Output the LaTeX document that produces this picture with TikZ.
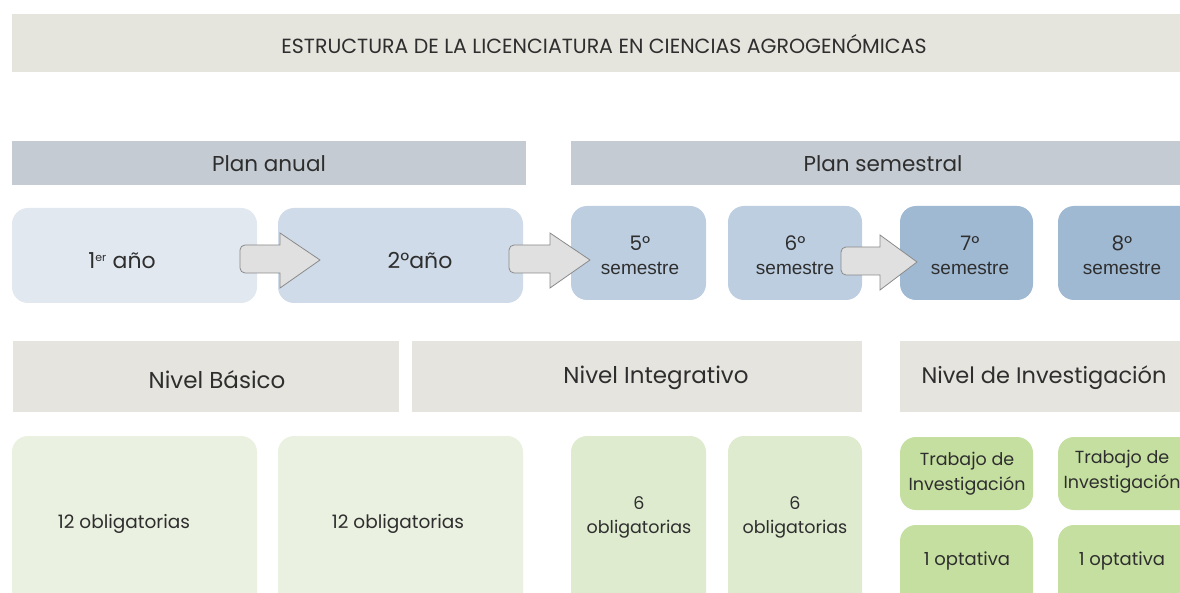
\documentclass[tikz,border=0pt]{standalone}
\usepackage{fontspec}
\setmainfont{Poppins}
\newfontfamily\helv{Liberation Sans}
\usetikzlibrary{positioning}
\definecolor{titlebg}{HTML}{E5E4DD}
\definecolor{planbg}{HTML}{C4CBD2}
\definecolor{yearA}{HTML}{E1E8F0}
\definecolor{yearB}{HTML}{CFDBE8}
\definecolor{semA}{HTML}{BDCEE1}
\definecolor{semB}{HTML}{A0B9D3}
\definecolor{nivbg}{HTML}{E5E4DE}
\definecolor{oblA}{HTML}{EAF1E0}
\definecolor{oblB}{HTML}{DEEBCF}
\definecolor{invbg}{HTML}{C5DFA0}
\definecolor{arrowbg}{HTML}{E0E0E0}
\definecolor{arrowln}{HTML}{8A8A8A}
\definecolor{txt}{HTML}{2E2E2E}
\tikzset{
  lbl/.style={inner sep=0pt, text=txt, align=center},
  big/.style={lbl, font=\fontsize{22}{26}\selectfont},
  small/.style={lbl, font=\fontsize{17.5}{24}\selectfont},
  conn/.style={draw=arrowln, fill=arrowbg, line width=0.8pt, line join=miter},
}
\newcommand\semlbl[1]{{\fontsize{20}{24}\selectfont #1°}\\{\helv\fontsize{19}{24}\selectfont semestre}}
\begin{document}
\begin{tikzpicture}[x=1pt,y=-1pt]
\useasboundingbox (0,0) rectangle (1180,593);
\clip (0,0) rectangle (1180,593);
% title
\fill[titlebg] (12,14) rectangle (1190,72);
\node[lbl, font=\fontsize{20.5}{22}\selectfont] (title) at (604,44) {ESTRUCTURA DE LA LICENCIATURA EN CIENCIAS AGROGENÓMICAS};
% plan headers
\fill[planbg] (12,141) rectangle (526,185);
\node[big, font=\fontsize{21.5}{26}\selectfont] (anual) at (269,164) {Plan anual};
\fill[planbg] (571,141) rectangle (1190,185);
\node[big, font=\fontsize{21.5}{26}\selectfont] (semestral) at (883,164) {Plan semestral};
% year / semester boxes
\fill[yearA, rounded corners=16pt] (12,208) rectangle (257,303);
\fill[yearB, rounded corners=16pt] (278,208) rectangle (523,303);
\fill[semA, rounded corners=16pt] (571,206) rectangle (706,300);
\fill[semA, rounded corners=16pt] (728,206) rectangle (862,300);
\fill[semB, rounded corners=16pt] (900,206) rectangle (1033,300);
\fill[semB, rounded corners=16pt] (1058,206) rectangle (1200,300);
\node[big] (y1) at (122,261) {1\textsuperscript{\fontsize{11}{12}\selectfont er} año};
\node[big] (y2) at (420,261) {2°año};
\node[small] (s5) at (640,255) {\semlbl{5}};
\node[small] (s6) at (795,255) {\semlbl{6}};
\node[small] (s7) at (970,255) {\semlbl{7}};
\node[small] (s8) at (1122,255) {\semlbl{8}};
% arrows
\draw[conn] (280,273) -- (247,273) [rounded corners=5pt] -- (240,273) -- (240,245) [sharp corners] -- (280,245) -- (280,233) -- (320,260) -- (280,288) -- cycle;
\draw[conn] (550,273) -- (516,273) [rounded corners=5pt] -- (509,273) -- (509,245) [sharp corners] -- (550,245) -- (550,233) -- (590,260) -- (550,288) -- cycle;
\draw[conn] (880,275) -- (848,275) [rounded corners=5pt] -- (841,275) -- (841,247) [sharp corners] -- (880,247) -- (880,235) -- (917,262) -- (880,290) -- cycle;
% level headers
\fill[nivbg] (13,341) rectangle (399,412);
\node[big, font=\fontsize{23}{26}\selectfont] (basico) at (217,380) {Nivel Básico};
\fill[nivbg] (412,341) rectangle (862,412);
\node[big, font=\fontsize{23}{26}\selectfont] (integ) at (656,378) {Nivel Integrativo};
\fill[nivbg] (900,341) rectangle (1190,412);
\node[big, font=\fontsize{22.5}{26}\selectfont] (invest) at (1044,378) {Nivel de Investigación};
% bottom boxes
\fill[oblA, rounded corners=16pt] (12,436) rectangle (257,620);
\fill[oblA, rounded corners=16pt] (278,436) rectangle (523,620);
\fill[oblB, rounded corners=16pt] (571,436) rectangle (706,620);
\fill[oblB, rounded corners=16pt] (728,436) rectangle (862,620);
\node[small, font=\fontsize{18.5}{23}\selectfont] (o1) at (124,524) {12 obligatorias};
\node[small, font=\fontsize{18.5}{23}\selectfont] (o2) at (398,524) {12 obligatorias};
\node[small] (o5) at (639,517) {6\\obligatorias};
\node[small] (o6) at (795,517) {6\\obligatorias};
\fill[invbg, rounded corners=16pt] (900,437) rectangle (1033,510);
\fill[invbg, rounded corners=16pt] (1058,437) rectangle (1200,510);
\fill[invbg, rounded corners=16pt] (900,525) rectangle (1033,620);
\fill[invbg, rounded corners=16pt] (1058,525) rectangle (1200,620);
\node[small, font=\fontsize{17.5}{25}\selectfont] (t7) at (967,474) {Trabajo de\\Investigación};
\node[small, font=\fontsize{17.5}{25}\selectfont] (t8) at (1122,472) {Trabajo de\\Investigación};
\node[small, font=\fontsize{18}{24}\selectfont] (p7) at (967,561) {1 optativa};
\node[small, font=\fontsize{18}{24}\selectfont] (p8) at (1122,561) {1 optativa};
\end{tikzpicture}
\end{document}
